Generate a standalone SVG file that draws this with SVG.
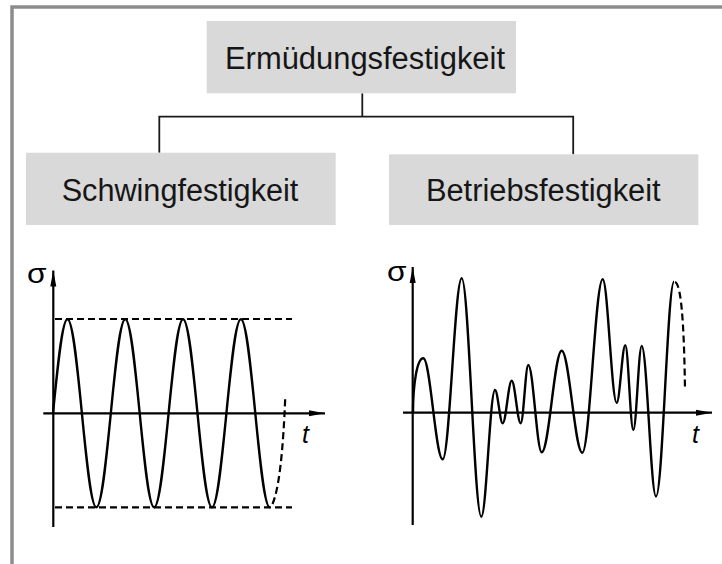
<svg xmlns="http://www.w3.org/2000/svg" width="722" height="564" viewBox="0 0 722 564">
<defs>
<style>
.box{fill:#d9d9d9}
.lbl{font-family:"Liberation Sans",Arial,sans-serif;font-size:31px;fill:#161616;text-anchor:middle}
.conn{fill:none;stroke:#1a1a1a;stroke-width:1.8}
.axis{fill:none;stroke:#000;stroke-width:2.2}
.curve{fill:none;stroke:#000;stroke-width:2.4;stroke-linejoin:round}
.dash{fill:none;stroke:#000;stroke-width:2.2;stroke-dasharray:7 4}
.sym{font-family:"Liberation Sans",Arial,sans-serif;font-size:28px;fill:#000}
.tt{font-family:"Liberation Sans",Arial,sans-serif;font-size:25px;font-style:italic;fill:#000}
</style>
<marker id="arr" viewBox="0 0 16 8" refX="16" refY="4" markerWidth="16" markerHeight="8" markerUnits="userSpaceOnUse" orient="auto">
<path d="M0,1 L16,4 L0,7 Z" fill="#000"/>
</marker>
</defs>
<rect width="722" height="564" fill="#fff"/>
<path d="M12,564 V7 H722" fill="none" stroke="#8c8c8c" stroke-width="3.5"/>

<g id="connectors">
<path class="conn" d="M362.3,93.3 V116.7"/>
<path class="conn" d="M159.3,152.7 V116.7 H573.2 V154.3"/>
</g>

<g id="node-ermuedung">
<rect class="box" x="206.7" y="21" width="309.3" height="72.3"/>
<text class="lbl" x="365" y="69" textLength="280" lengthAdjust="spacingAndGlyphs">Ermüdungsfestigkeit</text>
</g>
<g id="node-schwing">
<rect class="box" x="26" y="152.7" width="309.7" height="72.3"/>
<text class="lbl" x="180" y="200.7" textLength="236.7" lengthAdjust="spacingAndGlyphs">Schwingfestigkeit</text>
</g>
<g id="node-betrieb">
<rect class="box" x="389" y="154.3" width="309.4" height="70.7"/>
<text class="lbl" x="543.3" y="200.7" textLength="234.8" lengthAdjust="spacingAndGlyphs">Betriebsfestigkeit</text>
</g>

<g id="graph-schwing">
<path class="axis" d="M53.3,527 V270.5" marker-end="url(#arr)"/>
<path class="axis" d="M43.3,413.3 H325" marker-end="url(#arr)"/>
<path class="dash" d="M55,319 H292"/>
<path class="dash" d="M55,507.3 H292"/>
<path class="curve" d="M53,413.3
c 4.717,-48.2 9.22,-94 14.45,-94 c 5.23,0 9.733,45.8 14.45,94 c 4.717,48.2 9.22,94 14.45,94 c 5.23,0 9.733,-45.8 14.45,-94
c 4.717,-48.2 9.22,-94 14.45,-94 c 5.23,0 9.733,45.8 14.45,94 c 4.717,48.2 9.22,94 14.45,94 c 5.23,0 9.733,-45.8 14.45,-94
c 4.717,-48.2 9.22,-94 14.45,-94 c 5.23,0 9.733,45.8 14.45,94 c 4.717,48.2 9.22,94 14.45,94 c 5.23,0 9.733,-45.8 14.45,-94
c 4.717,-48.2 9.22,-94 14.45,-94 c 5.23,0 9.733,45.8 14.45,94 c 4.717,48.2 9.22,94 14.45,94"/>
<path class="dash" d="M272.5,504 Q282,482 285.3,396"/>
<text class="sym" x="27" y="283" textLength="19.5" lengthAdjust="spacingAndGlyphs">σ</text>
<text class="tt" x="302" y="443">t</text>
</g>

<g id="graph-betrieb">
<path class="axis" d="M412.7,525 V267" marker-end="url(#arr)"/>
<path class="axis" d="M403,412.7 H712" marker-end="url(#arr)"/>
<path class="curve" d="M413,412.7 C413,385 417,358.3 423.3,358.3
C 430.4,358.3 435.6,459.3 442.7,459.3
C 449.6,459.3 454.8,278.3 461.7,278.3
C 468.8,278.3 474.2,516.7 481.3,516.7
C 486.3,516.7 490,390 495,390
C 497.8,390 499.9,423.3 502.7,423.3
C 506,423.3 508.4,380.7 511.7,380.7
C 515,380.7 517.4,423.3 520.7,423.3
C 523.5,423.3 525.5,365 528.3,365
C 533.2,365 536.8,452.3 541.7,452.3
C 549,452.3 554.4,350.7 561.7,350.7
C 569.2,350.7 574.8,452.7 582.3,452.7
C 589.7,452.7 595.3,279.3 602.7,279.3
C 607.8,279.3 611.6,402.7 616.7,402.7
C 619.8,402.7 622.2,345.3 625.3,345.3
C 628.2,345.3 630.4,430 633.3,430
C 636.4,430 638.6,346 641.7,346
C 646.9,346 650.8,496.5 656,496.5
C 662.6,496.5 667.5,281.7 674,281.7"/>
<path class="dash" d="M675,282 C681,284 684,320 685,390"/>
<text class="sym" x="387" y="280.5" textLength="19.5" lengthAdjust="spacingAndGlyphs">σ</text>
<text class="tt" x="692" y="443">t</text>
</g>
</svg>
